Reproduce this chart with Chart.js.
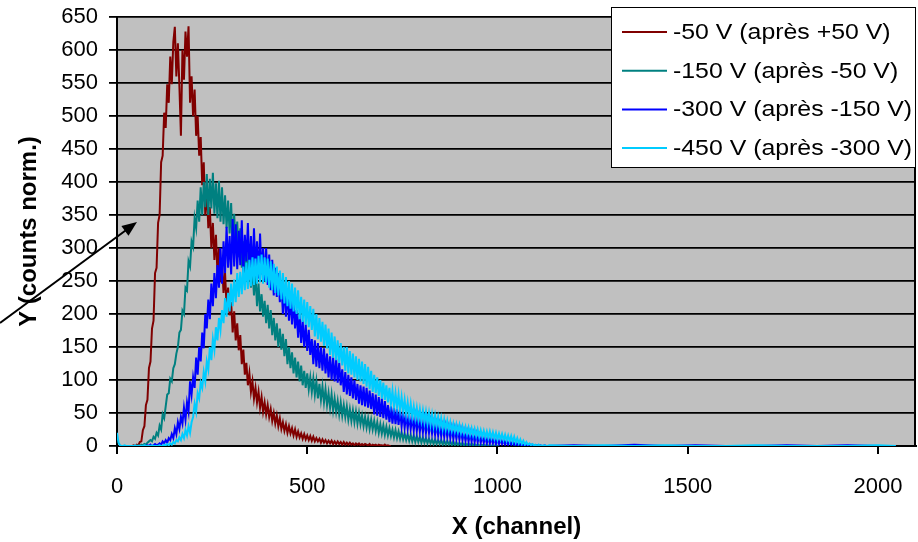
<!DOCTYPE html>
<html>
<head>
<meta charset="utf-8">
<script src="https://cdn.jsdelivr.net/npm/chart.js@4.4.0/dist/chart.umd.min.js"></script>
<style>
  html, body { margin: 0; padding: 0; background: #fff; }
  #wrap { width: 918px; height: 542px; }
</style>
</head>
<body>
<div id="wrap"><canvas id="spectres" width="918" height="542"></canvas></div>
<script>
// Spectres normalisés : un point tous les 4 canaux, à partir du canal de début de chaque série
const CANAL_PAS = 4;

const serieLabels = ['-50 V (après +50 V)', '-150 V (après -50 V)', '-300 V (après -150 V)', '-450 V (après -300 V)'];
const serieCouleurs = ['#800000', '#008080', '#0000ff', '#00ccff'];
const serieDebuts = [40, 48, 72, 0];

const moins50 = [
  0, 1, 0, 2, 1, 6, 7, 24, 30, 62,
  70, 118, 128, 178, 190, 262, 270, 338, 350, 430,
  440, 505, 482, 548, 520, 590, 548, 612, 635, 560,
  610, 545, 470, 600, 555, 628, 590, 636, 520, 560,
  500, 540, 470, 500, 440, 468, 395, 430, 350, 390,
  330, 362, 300, 338, 282, 320, 262, 300, 248, 278,
  232, 262, 212, 240, 198, 218, 172, 204, 160, 186,
  145, 168, 124, 146, 108, 126, 92, 110, 82, 98,
  72, 88, 66, 82, 58, 74, 52, 66, 48, 62,
  44, 56, 38, 50, 34, 46, 30, 42, 26, 36,
  23, 33, 20, 30, 19, 27, 16, 25, 14, 22,
  13, 19, 11, 18, 10, 16, 9, 15, 8, 14,
  7, 12, 7, 11, 5, 10, 5, 9, 4, 8,
  4, 8, 3, 7, 3, 7, 3, 6, 2, 6,
  2, 5, 2, 5, 2, 4, 1, 4, 2, 4,
  1, 3, 1, 3, 2, 1, 3, 0, 2, 1,
  2, 0, 2, 1, 1, 0, 2, 0, 1, 0,
  0
];

const moins150 = [
  0, 0, 1, 0, 2, 1, 3, 2, 5, 7,
  9, 7, 14, 11, 20, 16, 31, 25, 48, 42,
  60, 78, 80, 102, 98, 118, 124, 140, 150, 172,
  176, 205, 200, 240, 236, 280, 272, 310, 302, 345,
  330, 372, 340, 392, 350, 400, 362, 412, 350, 405,
  360, 414, 352, 398, 345, 402, 340, 392, 336, 380,
  330, 372, 322, 368, 300, 352, 298, 340, 286, 330,
  270, 310, 262, 300, 248, 284, 240, 272, 228, 262,
  212, 246, 204, 230, 196, 220, 186, 214, 178, 206,
  168, 194, 160, 186, 150, 178, 146, 170, 136, 162,
  124, 150, 118, 142, 110, 134, 104, 128, 98, 122,
  92, 114, 88, 110, 86, 104, 82, 102, 78, 98,
  72, 94, 70, 90, 66, 86, 62, 80, 58, 78,
  54, 72, 52, 68, 48, 66, 46, 62, 44, 60,
  40, 56, 38, 54, 36, 52, 34, 50, 33, 46,
  30, 44, 28, 42, 26, 40, 25, 38, 23, 36,
  20, 33, 19, 31, 17, 29, 16, 27, 15, 25,
  13, 24, 12, 22, 11, 21, 10, 19, 9, 18,
  8, 17, 7, 16, 6, 15, 6, 14, 5, 13,
  5, 12, 4, 11, 4, 10, 3, 10, 3, 9,
  3, 9, 2, 8, 2, 8, 2, 7, 1, 7,
  1, 6, 1, 5, 1, 5, 0, 4, 1, 4,
  0, 4, 1, 3, 0, 3, 0, 2, 1, 2,
  0, 2, 0, 1, 0, 1, 0, 1, 0, 0
];

const moins300 = [
  0, 0, 1, 0, 2, 0, 1, 3, 1, 2,
  4, 2, 7, 4, 9, 5, 12, 9, 18, 12,
  27, 18, 36, 26, 44, 34, 58, 40, 66, 52,
  98, 78, 104, 88, 134, 108, 150, 128, 172, 148,
  200, 178, 222, 192, 246, 212, 262, 224, 274, 240,
  300, 246, 310, 262, 332, 270, 318, 260, 344, 272,
  336, 268, 326, 274, 342, 262, 320, 280, 338, 264,
  318, 258, 330, 266, 310, 254, 322, 260, 300, 250,
  300, 244, 290, 236, 282, 228, 270, 226, 262, 218,
  250, 200, 244, 196, 236, 190, 226, 184, 220, 178,
  206, 164, 200, 156, 190, 150, 184, 144, 176, 138,
  162, 124, 160, 120, 156, 118, 150, 114, 148, 110,
  140, 104, 136, 100, 134, 98, 132, 96, 126, 92,
  116, 82, 112, 78, 108, 76, 104, 72, 100, 70,
  94, 64, 92, 62, 90, 60, 88, 58, 84, 56,
  80, 48, 78, 46, 74, 44, 72, 42, 68, 40,
  62, 36, 60, 34, 58, 33, 56, 32, 54, 30,
  50, 28, 48, 27, 46, 26, 44, 24, 44, 23,
  42, 22, 40, 21, 40, 20, 38, 20, 37, 19,
  34, 17, 33, 16, 32, 15, 30, 14, 30, 14,
  28, 12, 27, 11, 26, 11, 25, 10, 24, 9,
  22, 8, 21, 7, 20, 7, 19, 6, 18, 6,
  16, 5, 15, 5, 14, 4, 13, 4, 12, 4,
  11, 3, 10, 3, 10, 3, 9, 2, 8, 2,
  7, 2, 7, 1, 6, 1, 5, 1, 4, 0,
  3, 0, 2, 0, 2, 0, 1, 0, 1, 0,
  1, 0, 0, 1, 0
];

const moins450 = [
  20, 5, 1, 0, 0, 1, 0, 0, 0, 0,
  0, 0, 1, 0, 0, 0, 0, 0, 1, 0,
  0, 0, 0, 1, 0, 0, 0, 0, 1, 0,
  0, 2, 1, 3, 1, 4, 2, 6, 4, 9,
  7, 13, 9, 18, 12, 24, 16, 30, 20, 36,
  44, 64, 52, 80, 72, 96, 88, 112, 98, 128,
  116, 150, 130, 162, 146, 180, 160, 194, 176, 206,
  186, 224, 196, 232, 204, 246, 212, 252, 218, 262,
  226, 264, 230, 272, 236, 278, 238, 282, 242, 286,
  244, 284, 246, 288, 248, 290, 246, 286, 248, 284,
  240, 280, 236, 276, 232, 272, 228, 266, 222, 262,
  216, 256, 212, 250, 208, 246, 204, 240, 200, 236,
  192, 226, 188, 222, 184, 218, 180, 212, 176, 208,
  166, 200, 162, 194, 158, 188, 152, 184, 148, 178,
  138, 172, 134, 166, 130, 160, 126, 156, 122, 150,
  114, 150, 110, 144, 108, 140, 104, 136, 100, 132,
  98, 128, 94, 124, 90, 120, 86, 114, 82, 108,
  80, 104, 76, 100, 72, 96, 70, 92, 66, 88,
  64, 84, 60, 80, 58, 78, 54, 74, 52, 70,
  48, 66, 46, 64, 44, 60, 42, 58, 40, 56,
  38, 54, 36, 52, 34, 50, 32, 48, 30, 46,
  30, 44, 28, 42, 26, 40, 25, 38, 24, 36,
  23, 34, 22, 33, 21, 32, 20, 30, 19, 29,
  18, 28, 17, 27, 16, 26, 15, 25, 14, 24,
  14, 23, 13, 22, 12, 22, 12, 21, 11, 20,
  10, 19, 10, 18, 9, 17, 8, 16, 7, 15,
  6, 14, 5, 12, 4, 10, 3, 8, 2, 6,
  2, 4, 1, 3, 1, 2, 0, 2, 0, 1,
  0, 1, 0, 0, 1
];

// Quelques coups isolés jusqu'au dernier canal (2047)
const canauxQueue = [1200, 1280, 1360, 1440, 1520, 1600, 1680, 1760, 1840, 1920, 2000, 2047];
const queue300 = [1, 0, 2, 0, 1, 0, 0, 1, 0, 1, 0, 0];
const queue450 = [0, 1, 0, 1, 0, 0, 1, 0, 0, 0, 1, 0];

const xTicks = [0, 500, 1000, 1500, 2000];
const yTicks = [0, 50, 100, 150, 200, 250, 300, 350, 400, 450, 500, 550, 600, 650];

const POLICE = '"Liberation Sans", Arial, sans-serif';

const versPoints = (valeurs, debut, queue) => {
    const pts = valeurs.map((v, i) => ({ x: debut + i * CANAL_PAS, y: v }));
    if (queue) queue.forEach((v, i) => pts.push({ x: canauxQueue[i], y: v }));
    return pts;
};

// Fond gris de la zone de tracé + cadre droit
const fondGris = {
    id: 'fondGris',
    beforeDraw(chart) {
        const { ctx, chartArea: a } = chart;
        ctx.save();
        ctx.fillStyle = '#c0c0c0';
        ctx.fillRect(a.left, a.top, a.right - a.left, a.bottom - a.top);
        ctx.restore();
    },
    beforeDatasetsDraw(chart) {
        const { ctx, chartArea: a } = chart;
        ctx.save();
        ctx.strokeStyle = '#000';
        ctx.lineWidth = 2;
        ctx.beginPath();
        ctx.moveTo(a.right - 1, a.top);
        ctx.lineTo(a.right - 1, a.bottom);
        ctx.stroke();
        ctx.restore();
    }
};

// Légende encadrée en haut à droite, par-dessus le tracé
const legendeCadre = {
    id: 'legendeCadre',
    afterDraw(chart) {
        const ctx = chart.ctx;
        ctx.save();
        ctx.fillStyle = '#fff';
        ctx.fillRect(611.5, 7.5, 304, 160);
        ctx.strokeStyle = '#000';
        ctx.lineWidth = 1;
        ctx.strokeRect(611.5, 7.5, 304, 160);
        chart.data.datasets.forEach((ds, i) => {
            const y = 32 + i * 38.7;
            ctx.strokeStyle = ds.borderColor;
            ctx.lineWidth = 2;
            ctx.beginPath();
            ctx.moveTo(622, y);
            ctx.lineTo(667, y);
            ctx.stroke();
            ctx.save();
            ctx.translate(673, y);
            ctx.scale(1.13, 1);
            ctx.fillStyle = '#000';
            ctx.font = '22px ' + POLICE;
            ctx.textBaseline = 'middle';
            ctx.fillText(ds.label, 0, 1);
            ctx.restore();
        });
        ctx.restore();
    }
};

// Flèche noire qui pointe vers le pic
const fleche = {
    id: 'fleche',
    afterDraw(chart) {
        const ctx = chart.ctx;
        const x0 = 0, y0 = 323, x1 = 137, y1 = 222;
        const ang = Math.atan2(y1 - y0, x1 - x0);
        ctx.save();
        ctx.strokeStyle = '#000';
        ctx.fillStyle = '#000';
        ctx.lineWidth = 2;
        ctx.beginPath();
        ctx.moveTo(x0, y0);
        ctx.lineTo(x1 - 10 * Math.cos(ang), y1 - 10 * Math.sin(ang));
        ctx.stroke();
        ctx.beginPath();
        ctx.moveTo(x1, y1);
        ctx.lineTo(x1 - 15 * Math.cos(ang) + 6 * Math.sin(ang), y1 - 15 * Math.sin(ang) - 6 * Math.cos(ang));
        ctx.lineTo(x1 - 15 * Math.cos(ang) - 6 * Math.sin(ang), y1 - 15 * Math.sin(ang) + 6 * Math.cos(ang));
        ctx.closePath();
        ctx.fill();
        ctx.restore();
    }
};

const series = [
    versPoints(moins50, serieDebuts[0]),
    versPoints(moins150, serieDebuts[1]),
    versPoints(moins300, serieDebuts[2], queue300),
    versPoints(moins450, serieDebuts[3], queue450)
];

new Chart(document.getElementById('spectres'), {
    type: 'line',
    data: {
        datasets: series.map((pts, i) => ({
            label: serieLabels[i],
            data: pts,
            borderColor: serieCouleurs[i],
            backgroundColor: serieCouleurs[i],
            borderWidth: 2,
            pointRadius: 0,
            tension: 0,
            fill: false,
            order: series.length - i
        }))
    },
    options: {
        responsive: false,
        animation: false,
        layout: { padding: { top: 17, right: 2, left: 0, bottom: 0 } },
        plugins: {
            legend: { display: false },
            tooltip: { enabled: false }
        },
        scales: {
            x: {
                type: 'linear',
                min: 0,
                max: 2100,
                afterBuildTicks: s => { s.ticks = xTicks.map(v => ({ value: v })); },
                afterFit: s => { s.height = 96; s.paddingLeft = 0; s.paddingRight = 0; },
                grid: { drawOnChartArea: false, color: '#000', lineWidth: 2, tickLength: 8 },
                border: { color: '#000', width: 2 },
                ticks: {
                    color: '#000',
                    font: { family: POLICE, size: 22 },
                    padding: 20,
                    maxRotation: 0,
                    callback: v => String(v)
                },
                title: {
                    display: true,
                    text: 'X (channel)',
                    color: '#000',
                    font: { family: POLICE, size: 24, weight: 'bold', lineHeight: 1.2 },
                    padding: { top: 0, bottom: 0 }
                }
            },
            y: {
                min: 0,
                max: 650,
                afterBuildTicks: s => { s.ticks = yTicks.map(v => ({ value: v })); },
                afterFit: s => { s.width = 117; s.paddingTop = 0; s.paddingBottom = 0; },
                grid: { color: '#000', lineWidth: 1.8, tickLength: 8 },
                border: { color: '#000', width: 2 },
                ticks: {
                    color: '#000',
                    font: { family: POLICE, size: 22 },
                    padding: 11,
                    callback: v => String(v)
                },
                title: {
                    display: true,
                    text: 'Y (counts norm.)',
                    color: '#000',
                    font: { family: POLICE, size: 24, weight: 'bold', lineHeight: 1.2 },
                    padding: { top: 15, bottom: 0 }
                }
            }
        }
    },
    plugins: [fondGris, legendeCadre, fleche]
});
</script>
</body>
</html>
